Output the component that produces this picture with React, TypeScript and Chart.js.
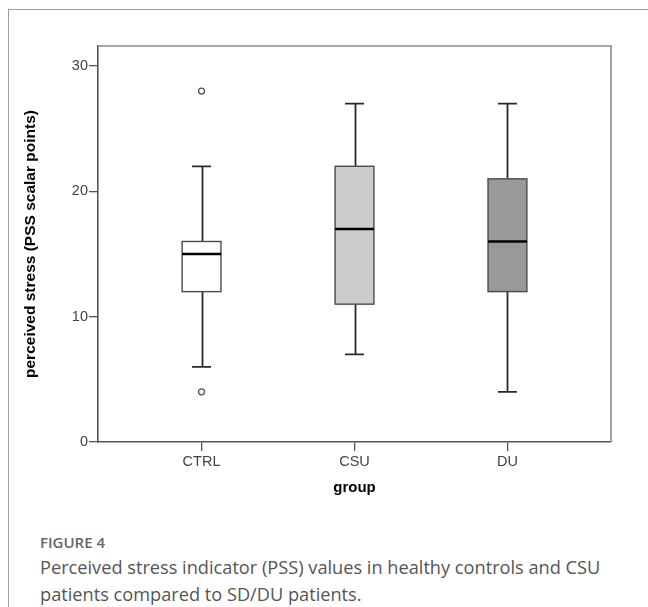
import React, { useEffect, useRef } from "react";
import { Chart, registerables } from "chart.js";

Chart.register(...registerables);

const categories = ["CTRL", "CSU", "DU"];
const whiskerLow = [6, 7, 4];
const q1 = [12, 11, 12];
const median = [15, 17, 16];
const q3 = [16, 22, 21];
const whiskerHigh = [22, 27, 27];
const outlierCategory = [0, 0];
const outlierValue = [28, 4];
const boxFills = ["#ffffff", "#cccccc", "#999999"];
const yTicks = [0, 10, 20, 30];

const boxPlugin = {
  id: "boxplots",
  beforeDatasetsDraw(chart: any) {
    const { ctx, scales } = chart;
    const x = scales.x;
    const y = scales.y;
    ctx.save();
    for (let i = 0; i < categories.length; i++) {
      const cx = Math.round(x.getPixelForValue(i)) + 0.5;
      const bl = x.getPixelForValue(i - 0.127);
      const br = x.getPixelForValue(i + 0.127);
      const cl = x.getPixelForValue(i - 0.062);
      const cr = x.getPixelForValue(i + 0.062);
      const yLo = y.getPixelForValue(whiskerLow[i]);
      const yQ1 = y.getPixelForValue(q1[i]);
      const yMed = y.getPixelForValue(median[i]);
      const yQ3 = y.getPixelForValue(q3[i]);
      const yHi = y.getPixelForValue(whiskerHigh[i]);
      ctx.strokeStyle = "#2a2a2a";
      ctx.lineWidth = 1.8;
      ctx.beginPath();
      ctx.moveTo(cx, yLo);
      ctx.lineTo(cx, yQ1);
      ctx.moveTo(cx, yQ3);
      ctx.lineTo(cx, yHi);
      ctx.moveTo(cl, yLo);
      ctx.lineTo(cr, yLo);
      ctx.moveTo(cl, yHi);
      ctx.lineTo(cr, yHi);
      ctx.stroke();
      ctx.fillStyle = boxFills[i];
      ctx.fillRect(bl, yQ3, br - bl, yQ1 - yQ3);
      ctx.strokeStyle = "#4a4a4a";
      ctx.lineWidth = 1.4;
      ctx.strokeRect(bl, yQ3, br - bl, yQ1 - yQ3);
      ctx.strokeStyle = "#000000";
      ctx.lineWidth = 2.6;
      ctx.beginPath();
      ctx.moveTo(bl, yMed);
      ctx.lineTo(br, yMed);
      ctx.stroke();
    }
    ctx.restore();
  },
  afterDraw(chart: any) {
    const { ctx, chartArea } = chart;
    ctx.save();
    ctx.strokeStyle = "#8a8a8a";
    ctx.lineWidth = 1.6;
    ctx.beginPath();
    ctx.moveTo(chartArea.left, chartArea.top);
    ctx.lineTo(chartArea.right, chartArea.top);
    ctx.lineTo(chartArea.right, chartArea.bottom);
    ctx.stroke();
    ctx.restore();
  },
};

const FONT = "'Liberation Sans', Arial, sans-serif";

function BoxChart() {
  const ref = useRef<HTMLCanvasElement>(null);
  useEffect(() => {
    if (!ref.current) return;
    const chart = new Chart(ref.current, {
      type: "scatter",
      data: {
        datasets: [
          {
            data: outlierCategory.map((c, k) => ({ x: c, y: outlierValue[k] })),
            pointStyle: "circle",
            radius: 3,
            borderWidth: 1.3,
            borderColor: "#555555",
            backgroundColor: "#ffffff",
          },
        ],
      },
      options: {
        responsive: false,
        animation: false,
        layout: { padding: { left: 0, top: 46, right: 37, bottom: 0 } },
        plugins: { legend: { display: false }, tooltip: { enabled: false } },
        scales: {
          x: {
            type: "linear",
            min: -0.677,
            max: 2.677,
            afterBuildTicks: (s: any) => {
              s.ticks = categories.map((_, i) => ({ value: i }));
            },
            afterFit: (s: any) => {
              s.height = 78;
            },
            grid: { drawOnChartArea: false, drawTicks: true, tickLength: 9, color: "#555555", lineWidth: 1.3 },
            border: { color: "#555555", width: 1.6 },
            ticks: {
              autoSkip: false,
              maxRotation: 0,
              padding: 2,
              color: "#444444",
              font: { family: FONT, size: 14.5 },
              callback: (v: any) => categories[v] ?? "",
            },
            title: {
              display: true,
              text: "group",
              color: "#000000",
              font: { family: FONT, size: 15, weight: "bold" },
              padding: { top: 0, bottom: 23 },
            },
          },
          y: {
            type: "linear",
            min: 0,
            max: 31.6,
            afterBuildTicks: (s: any) => {
              s.ticks = yTicks.map((v) => ({ value: v }));
            },
            afterFit: (s: any) => {
              s.width = 98;
            },
            grid: { drawOnChartArea: false, drawTicks: true, tickLength: 9, color: "#555555", lineWidth: 1.3 },
            border: { color: "#555555", width: 1.6 },
            ticks: {
              padding: 1,
              color: "#444444",
              font: { family: FONT, size: 14.5 },
            },
            title: {
              display: true,
              text: "perceived stress (PSS scalar points)",
              color: "#000000",
              font: { family: FONT, size: 15.5, weight: "bold" },
              padding: { top: 21, bottom: 0 },
            },
          },
        },
      },
      plugins: [boxPlugin],
    });
    return () => chart.destroy();
  }, []);
  return <canvas ref={ref} width={648} height={520} style={{ display: "block" }} />;
}

export default function App() {
  return (
    <div style={{ position: "absolute", left: 0, top: 0, width: 648, height: 607, overflow: "hidden", background: "#ffffff" }}>
      <div
        style={{
          position: "absolute",
          left: 8,
          top: 9,
          width: 660,
          height: 620,
          borderTop: "1px solid #a0a0a0",
          borderLeft: "1px solid #a0a0a0",
        }}
      />
      <div style={{ position: "absolute", left: 0, top: 0, width: 648, height: 520 }}>
        <BoxChart />
      </div>
      <div
        style={{
          position: "absolute",
          left: 40,
          top: 532,
          fontFamily: "'Open Sans', sans-serif",
          fontSize: 15,
          fontWeight: 600,
          color: "#666666",
          lineHeight: "20px",
        }}
      >
        FIGURE 4
      </div>
      <div
        style={{
          position: "absolute",
          left: 40,
          top: 554,
          width: 605,
          fontFamily: "'Open Sans', sans-serif",
          fontSize: 18.2,
          color: "#555555",
          lineHeight: "27px",
        }}
      >
        Perceived stress indicator (PSS) values in healthy controls and CSU patients compared to SD/DU patients.
      </div>
    </div>
  );
}
